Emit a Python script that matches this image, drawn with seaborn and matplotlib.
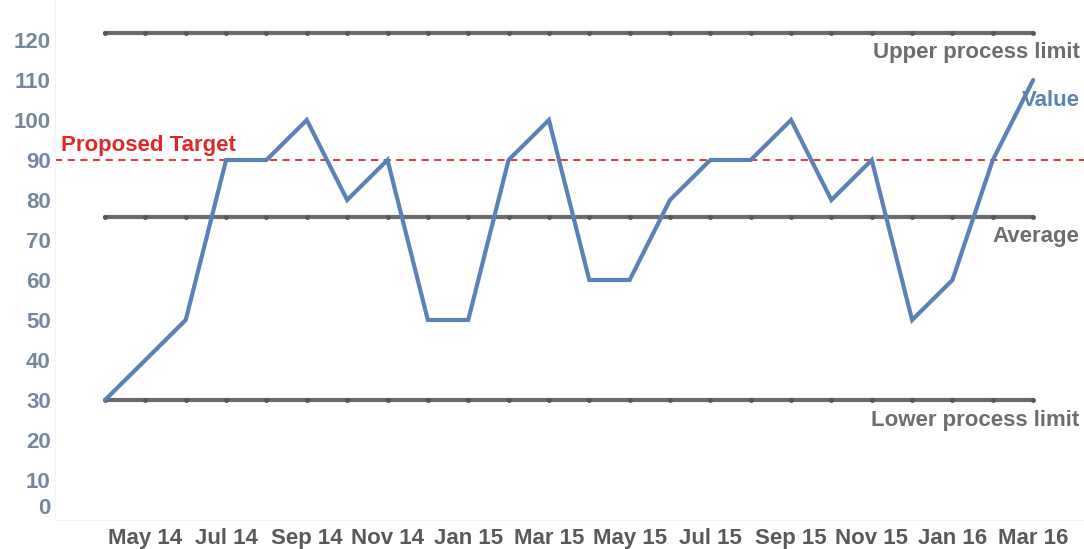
import numpy as np
import pandas as pd
import seaborn as sns
import matplotlib.pyplot as plt
import matplotlib.transforms as mtransforms

# Monthly values, Apr 14 .. Mar 16
months = ['Apr 14', 'May 14', 'Jun 14', 'Jul 14', 'Aug 14', 'Sep 14', 'Oct 14', 'Nov 14',
          'Dec 14', 'Jan 15', 'Feb 15', 'Mar 15', 'Apr 15', 'May 15', 'Jun 15', 'Jul 15',
          'Aug 15', 'Sep 15', 'Oct 15', 'Nov 15', 'Dec 15', 'Jan 16', 'Feb 16', 'Mar 16']
values = [30, 40, 50, 90, 90, 100, 80, 90, 50, 50, 90, 100,
          60, 60, 80, 90, 90, 100, 80, 90, 50, 60, 90, 110]
upper_limit = 121.7
lower_limit = 30
target = 90
y_ticks = [0, 10, 20, 30, 40, 50, 60, 70, 80, 90, 100, 110, 120]

df = pd.DataFrame({'Month': months, 'Value': values})
df['idx'] = range(len(df))
df['Average'] = np.mean(values)
df['Upper'] = upper_limit
df['Lower'] = lower_limit

sns.set_style('white')
plt.rcParams['font.family'] = ['Liberation Sans', 'DejaVu Sans']

fig = plt.figure(figsize=(10.84, 5.49), dpi=100)
ax = fig.add_axes([55 / 1084, 29 / 549, 1029 / 1084, 520 / 549])

grey = '#6b6b6b'
for col in ['Upper', 'Average', 'Lower']:
    sns.lineplot(data=df, x='idx', y=col, ax=ax, color=grey, linewidth=3,
                 marker='o', markersize=3.5, markeredgewidth=0,
                 markerfacecolor='#555555', solid_capstyle='round')

ax.axhline(target, color='#e02828', linestyle=(0, (4, 3)), linewidth=1.3)

sns.lineplot(data=df, x='idx', y='Value', ax=ax, color='#5b82b6', linewidth=3,
             solid_capstyle='round', solid_joinstyle='miter')

ax.set_xlim(-1.24, 24.26)
ax.set_ylim(0, 130)
ax.set_xlabel('')
ax.set_ylabel('')

fs = 16
ax.set_yticks(y_ticks)
ax.set_yticklabels([str(t) for t in y_ticks], fontsize=fs, fontweight='bold', color='#7388a0')
ax.set_xticks(df['idx'][1::2])
ax.set_xticklabels(df['Month'][1::2], fontsize=fs, fontweight='bold', color='#595959')
ax.tick_params(axis='both', length=0, pad=3)
ax.tick_params(axis='x', pad=6)

# bottom label sits a bit higher in the original
ylabs = ax.get_yticklabels()
ylabs[0].set_transform(ylabs[0].get_transform() +
                       mtransforms.ScaledTranslation(0, 14 / 100, fig.dpi_scale_trans))

for s in ['top', 'right']:
    ax.spines[s].set_visible(False)
for s in ['left', 'bottom']:
    ax.spines[s].set_color('#f4f4f4')

xr = 24.15
ax.text(xr, 116.8, 'Upper process limit', ha='right', va='center',
        fontsize=fs, fontweight='bold', color='#6d6d6d')
ax.text(xr, 105.0, 'Value', ha='right', va='center',
        fontsize=fs, fontweight='bold', color='#5b82b6')
ax.text(xr, 70.8, 'Average', ha='right', va='center',
        fontsize=fs, fontweight='bold', color='#6d6d6d')
ax.text(xr, 24.8, 'Lower process limit', ha='right', va='center',
        fontsize=fs, fontweight='bold', color='#6d6d6d')
ax.text(-1.1, 93.5, 'Proposed Target', ha='left', va='center',
        fontsize=fs, fontweight='bold', color='#e02828')

plt.savefig('out.png', dpi=100)
